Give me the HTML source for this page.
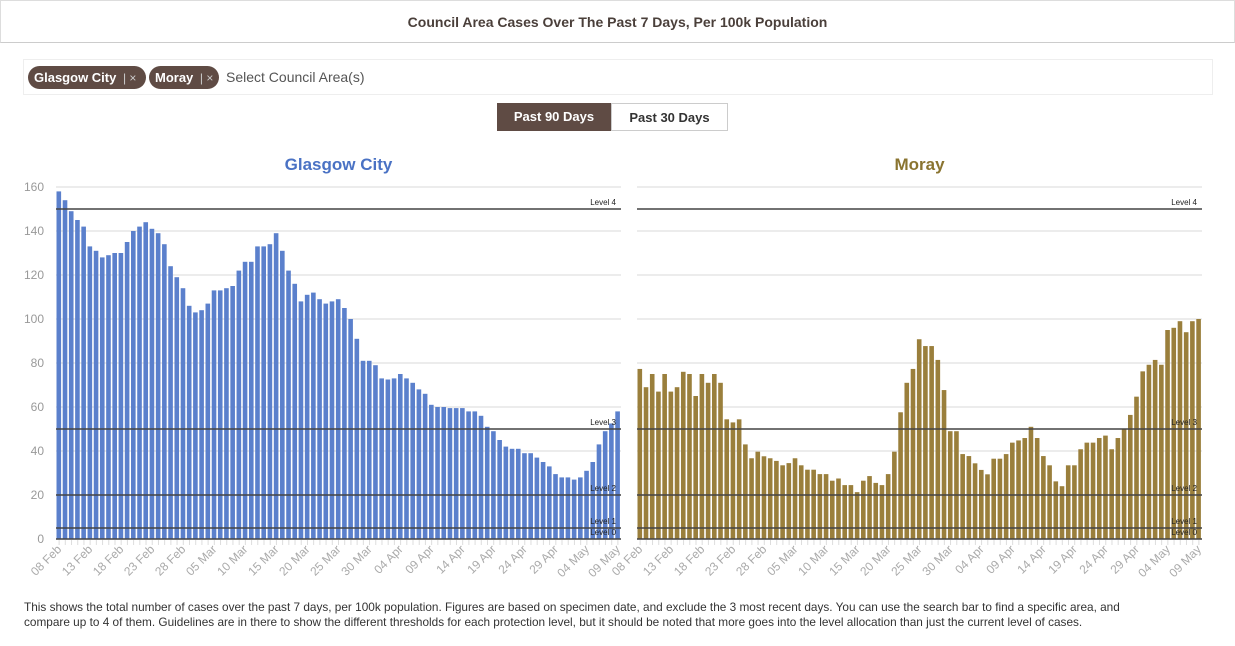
<!DOCTYPE html>
<html><head><meta charset="utf-8">
<style>
body{margin:0;width:1235px;height:646px;background:#fff;font-family:"Liberation Sans",sans-serif;overflow:hidden;position:relative}
.hdr{position:absolute;left:0;top:0;width:1233px;height:41px;border:1px solid #ddd;border-bottom:1px solid #ccc;text-align:center;line-height:42px;font-weight:bold;font-size:14px;color:#4a3f3a}
.search{position:absolute;left:23px;top:59px;width:1188px;height:34px;border:1px solid #eee}
.chip{position:absolute;top:6px;height:23px;background:#5f4b44;color:#fff;border-radius:12px;font-size:13px;font-weight:bold;line-height:23px;padding-left:6px;white-space:nowrap;box-sizing:border-box}
.chip span{font-weight:normal;color:#ccc;margin-left:3px;font-size:12px}
.btn{position:absolute;top:103px;height:28px;line-height:28px;font-size:13px;font-weight:bold;text-align:center}
.foot{position:absolute;left:24px;top:600px;width:1100px;font-size:11.8px;line-height:15px;color:#333}
</style></head><body>
<div class="hdr">Council Area Cases Over The Past 7 Days, Per 100k Population</div>
<div class="search">
 <div class="chip" style="left:4px;width:118px">Glasgow City <span>| ×</span></div>
 <div class="chip" style="left:125px;width:70px">Moray <span>| ×</span></div>
 <div style="position:absolute;left:202px;top:9px;font-size:14px;color:#555">Select Council Area(s)</div>
</div>
<div class="btn" style="left:497px;width:114px;background:#5f4b44;color:#fff">Past 90 Days</div>
<div class="btn" style="left:611px;width:115px;border:1px solid #ccc;height:26px;color:#333">Past 30 Days</div>
<svg id="svg" width="1235" height="646" style="position:absolute;left:0;top:0"></svg>
<div class="foot">This shows the total number of cases over the past 7 days, per 100k population. Figures are based on specimen date, and exclude the 3 most recent days. You can use the search bar to find a specific area, and compare up to 4 of them. Guidelines are in there to show the different thresholds for each protection level, but it should be noted that more goes into the level allocation than just the current level of cases.</div>
<script>
const glasgow=[158,154,149,145,142,133,131,128,129,130,130,135,140,142,144,141,139,134,124,119,114,106,103,104,107,113,113,114,115,122,126,126,133,133,134,139,131,122,116,108,111,112,109,107,108,109,105,100,91,81,81,79,73,72.5,73,75,73,71,68,66,61,60,60,59.5,59.5,59.5,58,58,56,51,49,45,42,41,41,39,39,37,35,33,29.5,28,28,27,28,31,35,43,49,52.5,58];
const moray=[77.3,69,75,67,75,67,69,76,75,65,75,71,75,71,54.4,53,54.4,43,36.7,39.7,37.6,36.7,35.5,33.5,34.5,36.7,33.5,31.5,31.5,29.5,29.5,26.5,27.5,24.5,24.5,21.3,26.5,28.6,25.5,24.5,29.5,39.7,57.6,71,77.3,90.8,87.7,87.7,81.4,67.7,49,49,38.6,37.7,34.4,31.4,29.4,36.5,36.5,38.6,43.8,44.8,45.9,51,45.9,37.7,33.5,26.2,24,33.5,33.5,40.8,43.8,43.8,45.9,47,40.8,45.9,50,56.4,64.7,76.2,79.2,81.4,79.2,95,96,99,94,99,100];
const yTicks=[0,20,40,60,80,100,120,140,160];
const levels=[150,50,20,5,0];
const levelNames=["Level 4","Level 3","Level 2","Level 1","Level 0"];
const dateLabels=["08 Feb","13 Feb","18 Feb","23 Feb","28 Feb","05 Mar","10 Mar","15 Mar","20 Mar","25 Mar","30 Mar","04 Apr","09 Apr","14 Apr","19 Apr","24 Apr","29 Apr","04 May","09 May"];
const svg=document.getElementById('svg');
const NS='http://www.w3.org/2000/svg';
function mk(t,a,txt){const e=document.createElementNS(NS,t);for(const k in a)e.setAttribute(k,a[k]);if(txt!=null)e.textContent=txt;svg.appendChild(e);return e;}
const Y0=539,YT=187;
function yS(v){return Y0-(v/160)*(Y0-YT);}
function draw(data,x0,x1,color,title,tcolor,key,showY){
 const bw=(x1-x0)/data.length;
 const xS=i=>x0+i*bw;
 const t=mk('text',{x:(x0+x1)/2,y:170,'text-anchor':'middle','font-size':17,'font-weight':'bold',fill:tcolor},title);
 
 
 yTicks.forEach(v=>{
  const g=mk('line',{x1:x0,x2:x1,y1:yS(v),y2:yS(v),stroke:'#e6e6e6','stroke-width':1.5});
  
  
  if(showY){const l=mk('text',{x:44,y:yS(v)+4,'text-anchor':'end','font-size':12,fill:'#999'},v);
   
   }
 });
 data.forEach((v,i)=>{
  const r=mk('rect',{x:xS(i)+0.5,y:yS(v),width:bw-1.6,height:Y0-yS(v),fill:color});
  
  
  mk('line',{x1:xS(i)+bw/2,x2:xS(i)+bw/2,y1:Y0+1,y2:Y0+6,stroke:'#ddd'});
 });
 levels.forEach((v,i)=>{
  if(v>0){const l=mk('line',{x1:x0,x2:x1,y1:yS(v),y2:yS(v),stroke:'#444','stroke-width':1.5});
   
   }
  const tx=mk('text',{x:x1-5,y:yS(v)-4,'text-anchor':'end','font-size':8,fill:'#222'},levelNames[i]);
  
  
 });
 const ax=mk('line',{x1:x0,x2:x1,y1:Y0,y2:Y0,stroke:'#444','stroke-width':1.5});
 
 
 dateLabels.forEach((d,j)=>{
  const cx=xS(j*5)+bw/2+3, cy=Y0+11;
  const l=mk('text',{x:cx,y:cy,'text-anchor':'end','font-size':12,fill:'#aaa',transform:`rotate(-45 ${cx} ${cy})`},d);
  
  
 });
}
draw(glasgow,56,621,'#5b80cc','Glasgow City','#4a72c4','glasgow',true);
draw(moray,637,1202,'#9a7f3c','Moray','#8a7430','moray',false);
</script>
</body></html>
